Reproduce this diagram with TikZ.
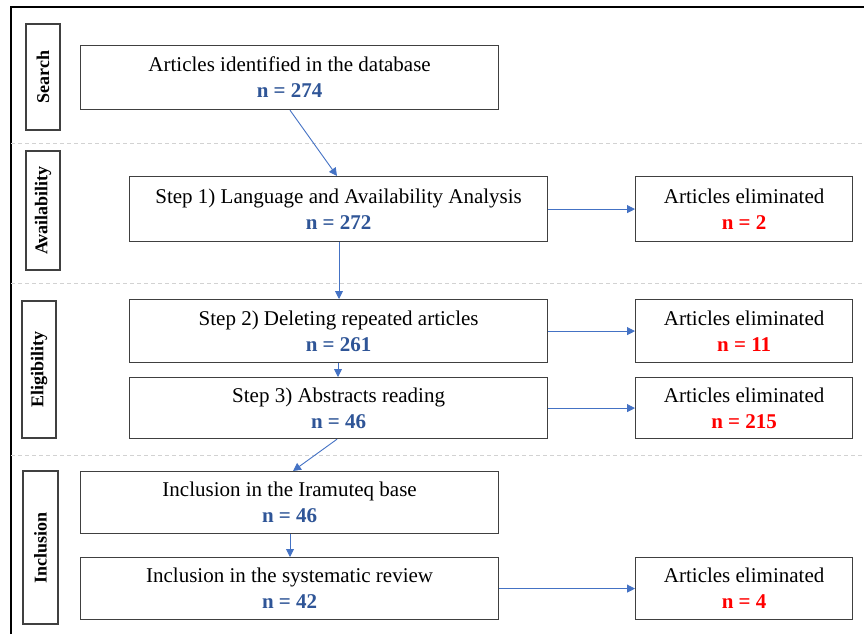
\documentclass[tikz,border=0pt]{standalone}
\usepackage{fontspec}
\setmainfont{Liberation Serif}
\usetikzlibrary{arrows.meta}
\definecolor{nblue}{RGB}{47,85,151}
\definecolor{arrblue}{RGB}{68,114,196}
\definecolor{boxframe}{RGB}{64,64,64}
\definecolor{nred}{RGB}{255,0,0}
\definecolor{dashgray}{RGB}{210,210,210}
\begin{document}
\begin{tikzpicture}[x=1pt,y=-1pt,
  stepbox/.style={draw=boxframe, line width=1.2pt, fill=white, inner sep=0pt, align=center,
    anchor=north west, font=\fontsize{21}{26}\selectfont},
  sidebox/.style={draw=boxframe, line width=1.2pt, fill=white, inner sep=0pt, rotate=90,
    minimum height=34pt, font=\fontsize{18}{20}\selectfont\bfseries},
  conn/.style={draw=arrblue, line width=0.9pt, -{Triangle[width=8pt,length=8pt]}},
  sep/.style={draw=dashgray, line width=1pt, dash pattern=on 4pt off 3pt},
  nb/.style={}]
\useasboundingbox (0,0) rectangle (864,634);
% outer frame
\draw[line width=1.5pt, black] (11,634) -- (11,7) -- (864,7);
% separators
\draw[sep] (11,143) -- (864,143);
\draw[sep] (11,283) -- (864,283);
\draw[sep] (11,455) -- (864,455);
% side labels
\node[sidebox, minimum width=106pt] (lsearch) at (43,77) {Search};
\node[sidebox, minimum width=119pt] (lavail) at (43,210.5) {Availability};
\node[sidebox, minimum width=137pt] (lelig) at (39,369.5) {Eligibility};
\node[sidebox, minimum width=153pt, minimum height=35pt] (lincl) at (40.5,547.5) {Inclusion};
% main boxes
\node[stepbox, minimum width=418pt, minimum height=64pt] (box1) at (80,45)
  {Articles identified in the database\\{\color{nblue}\textbf{n = 274}}};
\node[stepbox, minimum width=418pt, minimum height=65pt] (step1) at (129,176)
  {Step 1) Language and Availability Analysis\\{\color{nblue}\textbf{n = 272}}};
\node[stepbox, minimum width=418pt, minimum height=63pt] (step2) at (129,299)
  {Step 2) Deleting repeated articles\\{\color{nblue}\textbf{n = 261}}};
\node[stepbox, minimum width=418pt, minimum height=61pt] (step3) at (129,377)
  {Step 3) Abstracts reading\\{\color{nblue}\textbf{n = 46}}};
\node[stepbox, minimum width=418pt, minimum height=62pt] (incl1) at (80,471)
  {Inclusion in the Iramuteq base\\{\color{nblue}\textbf{n = 46}}};
\node[stepbox, minimum width=418pt, minimum height=62pt] (incl2) at (80,557)
  {Inclusion in the systematic review\\{\color{nblue}\textbf{n = 42}}};
% eliminated boxes
\node[stepbox, minimum width=217pt, minimum height=65pt] (elim1) at (635,176)
  {Articles eliminated\\{\color{nred}\textbf{n = 2}}};
\node[stepbox, minimum width=217pt, minimum height=63pt] (elim2) at (635,299)
  {Articles eliminated\\{\color{nred}\textbf{n = 11}}};
\node[stepbox, minimum width=217pt, minimum height=61pt] (elim3) at (635,377)
  {Articles eliminated\\{\color{nred}\textbf{n = 215}}};
\node[stepbox, minimum width=217pt, minimum height=62pt] (elim4) at (635,557)
  {Articles eliminated\\{\color{nred}\textbf{n = 4}}};
% connectors
\draw[conn] ([xshift=210pt]box1.south west) -- ([xshift=208pt]step1.north west);
\draw[conn] ([xshift=210pt]step1.south west) -- ([xshift=210pt]step2.north west);
\draw[conn] ([xshift=209pt]step2.south west) -- ([xshift=209pt]step3.north west);
\draw[conn] ([xshift=208pt]step3.south west) -- ([xshift=213pt]incl1.north west);
\draw[conn] ([xshift=210pt]incl1.south west) -- ([xshift=210pt]incl2.north west);
\draw[conn] (step1.east) -- (elim1.west);
\draw[conn] (step2.east) -- (elim2.west);
\draw[conn] (step3.east) -- (elim3.west);
\draw[conn] (incl2.east) -- (elim4.west);
\end{tikzpicture}
\end{document}
